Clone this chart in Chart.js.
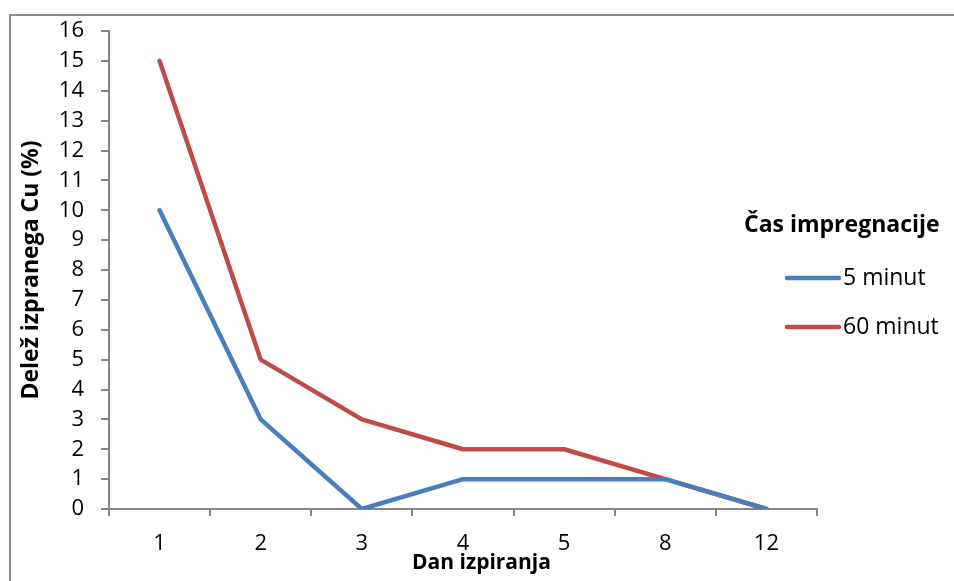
<!DOCTYPE html>
<html>
<head>
<meta charset="utf-8">
<script src="https://cdn.jsdelivr.net/npm/chart.js@4"></script>
<style>
  body { margin: 0; background: #fff; }
  #wrap { width: 954px; height: 581px; position: relative; }
</style>
</head>
<body>
<div id="wrap"><canvas id="chart" width="954" height="581"></canvas></div>
<script>
// data
var days = ['1', '2', '3', '4', '5', '8', '12'];
var min5 = [10, 3, 0, 1, 1, 1, 0];
var min60 = [15, 5, 3, 2, 2, 1, 0];
var seriesNames = ['5 minut', '60 minut'];
var legendTitle = 'Čas impregnacije';
var xTitle = 'Dan izpiranja';
var yTitle = 'Delež izpranega Cu (%)';

var axisGray = '#868686';
var fontName = '"Open Sans"';

// frame round the whole chart, x title and legend on the right
var framePlugin = {
    id: 'frame',
    afterDraw: function (chart) {
        var ctx = chart.ctx;
        ctx.save();
        ctx.strokeStyle = '#8c8c8c';
        ctx.lineWidth = 2;
        ctx.strokeRect(10, 15, 960, 600);

        ctx.fillStyle = '#000';
        ctx.textBaseline = 'alphabetic';
        ctx.textAlign = 'left';
        ctx.font = 'bold 21px ' + fontName;
        ctx.fillText(xTitle, 412, 569);

        // legend
        ctx.font = 'bold 23px ' + fontName;
        ctx.fillText(legendTitle, 744, 232);

        ctx.font = '23px ' + fontName;
        ctx.textBaseline = 'middle';
        chart.data.datasets.forEach(function (ds, i) {
            var y = 278 + i * 49;
            ctx.strokeStyle = ds.borderColor;
            ctx.lineWidth = 4.5;
            ctx.lineCap = 'round';
            ctx.beginPath();
            ctx.moveTo(787, y);
            ctx.lineTo(839, y);
            ctx.stroke();
            ctx.fillText(ds.label, 843, y);
        });
        ctx.restore();
    }
};

var ctx = document.getElementById('chart').getContext('2d');
var chart = new Chart(ctx, {
    type: 'line',
    data: {
        labels: days,
        datasets: [{
            label: seriesNames[0],
            data: min5,
            borderColor: '#4A7EBB',
            borderWidth: 4.5,
            pointRadius: 0,
            tension: 0,
            borderCapStyle: 'round',
            borderJoinStyle: 'round'
        }, {
            label: seriesNames[1],
            data: min60,
            borderColor: '#BE4B48',
            borderWidth: 4.5,
            pointRadius: 0,
            tension: 0,
            borderCapStyle: 'round',
            borderJoinStyle: 'round'
        }]
    },
    options: {
        responsive: false,
        animation: false,
        layout: {
            padding: { left: 12, top: 31, right: 137, bottom: 0 }
        },
        plugins: {
            legend: { display: false },
            tooltip: { enabled: false }
        },
        scales: {
            x: {
                offset: true,
                grid: {
                    offset: true,
                    drawOnChartArea: false,
                    color: axisGray,
                    tickLength: 7,
                    lineWidth: 2
                },
                border: { color: axisGray, width: 2 },
                ticks: {
                    color: '#000',
                    font: { family: fontName, size: 22 },
                    padding: 15
                },
                afterFit: function (scale) { scale.height = 581 - 509; }
            },
            y: {
                min: 0,
                max: 16,
                ticks: {
                    stepSize: 1,
                    color: '#000',
                    font: { family: fontName, size: 22 },
                    padding: 17
                },
                grid: {
                    drawOnChartArea: false,
                    color: axisGray,
                    tickLength: 8,
                    lineWidth: 2
                },
                border: { color: axisGray, width: 2 },
                title: {
                    display: true,
                    text: yTitle,
                    color: '#000',
                    font: { family: fontName, size: 23, weight: 'bold' },
                    padding: { top: 6, bottom: 0 }
                },
                afterFit: function (scale) { scale.width = 109 - 12; }
            }
        }
    },
    plugins: [framePlugin]
});
</script>
</body>
</html>
